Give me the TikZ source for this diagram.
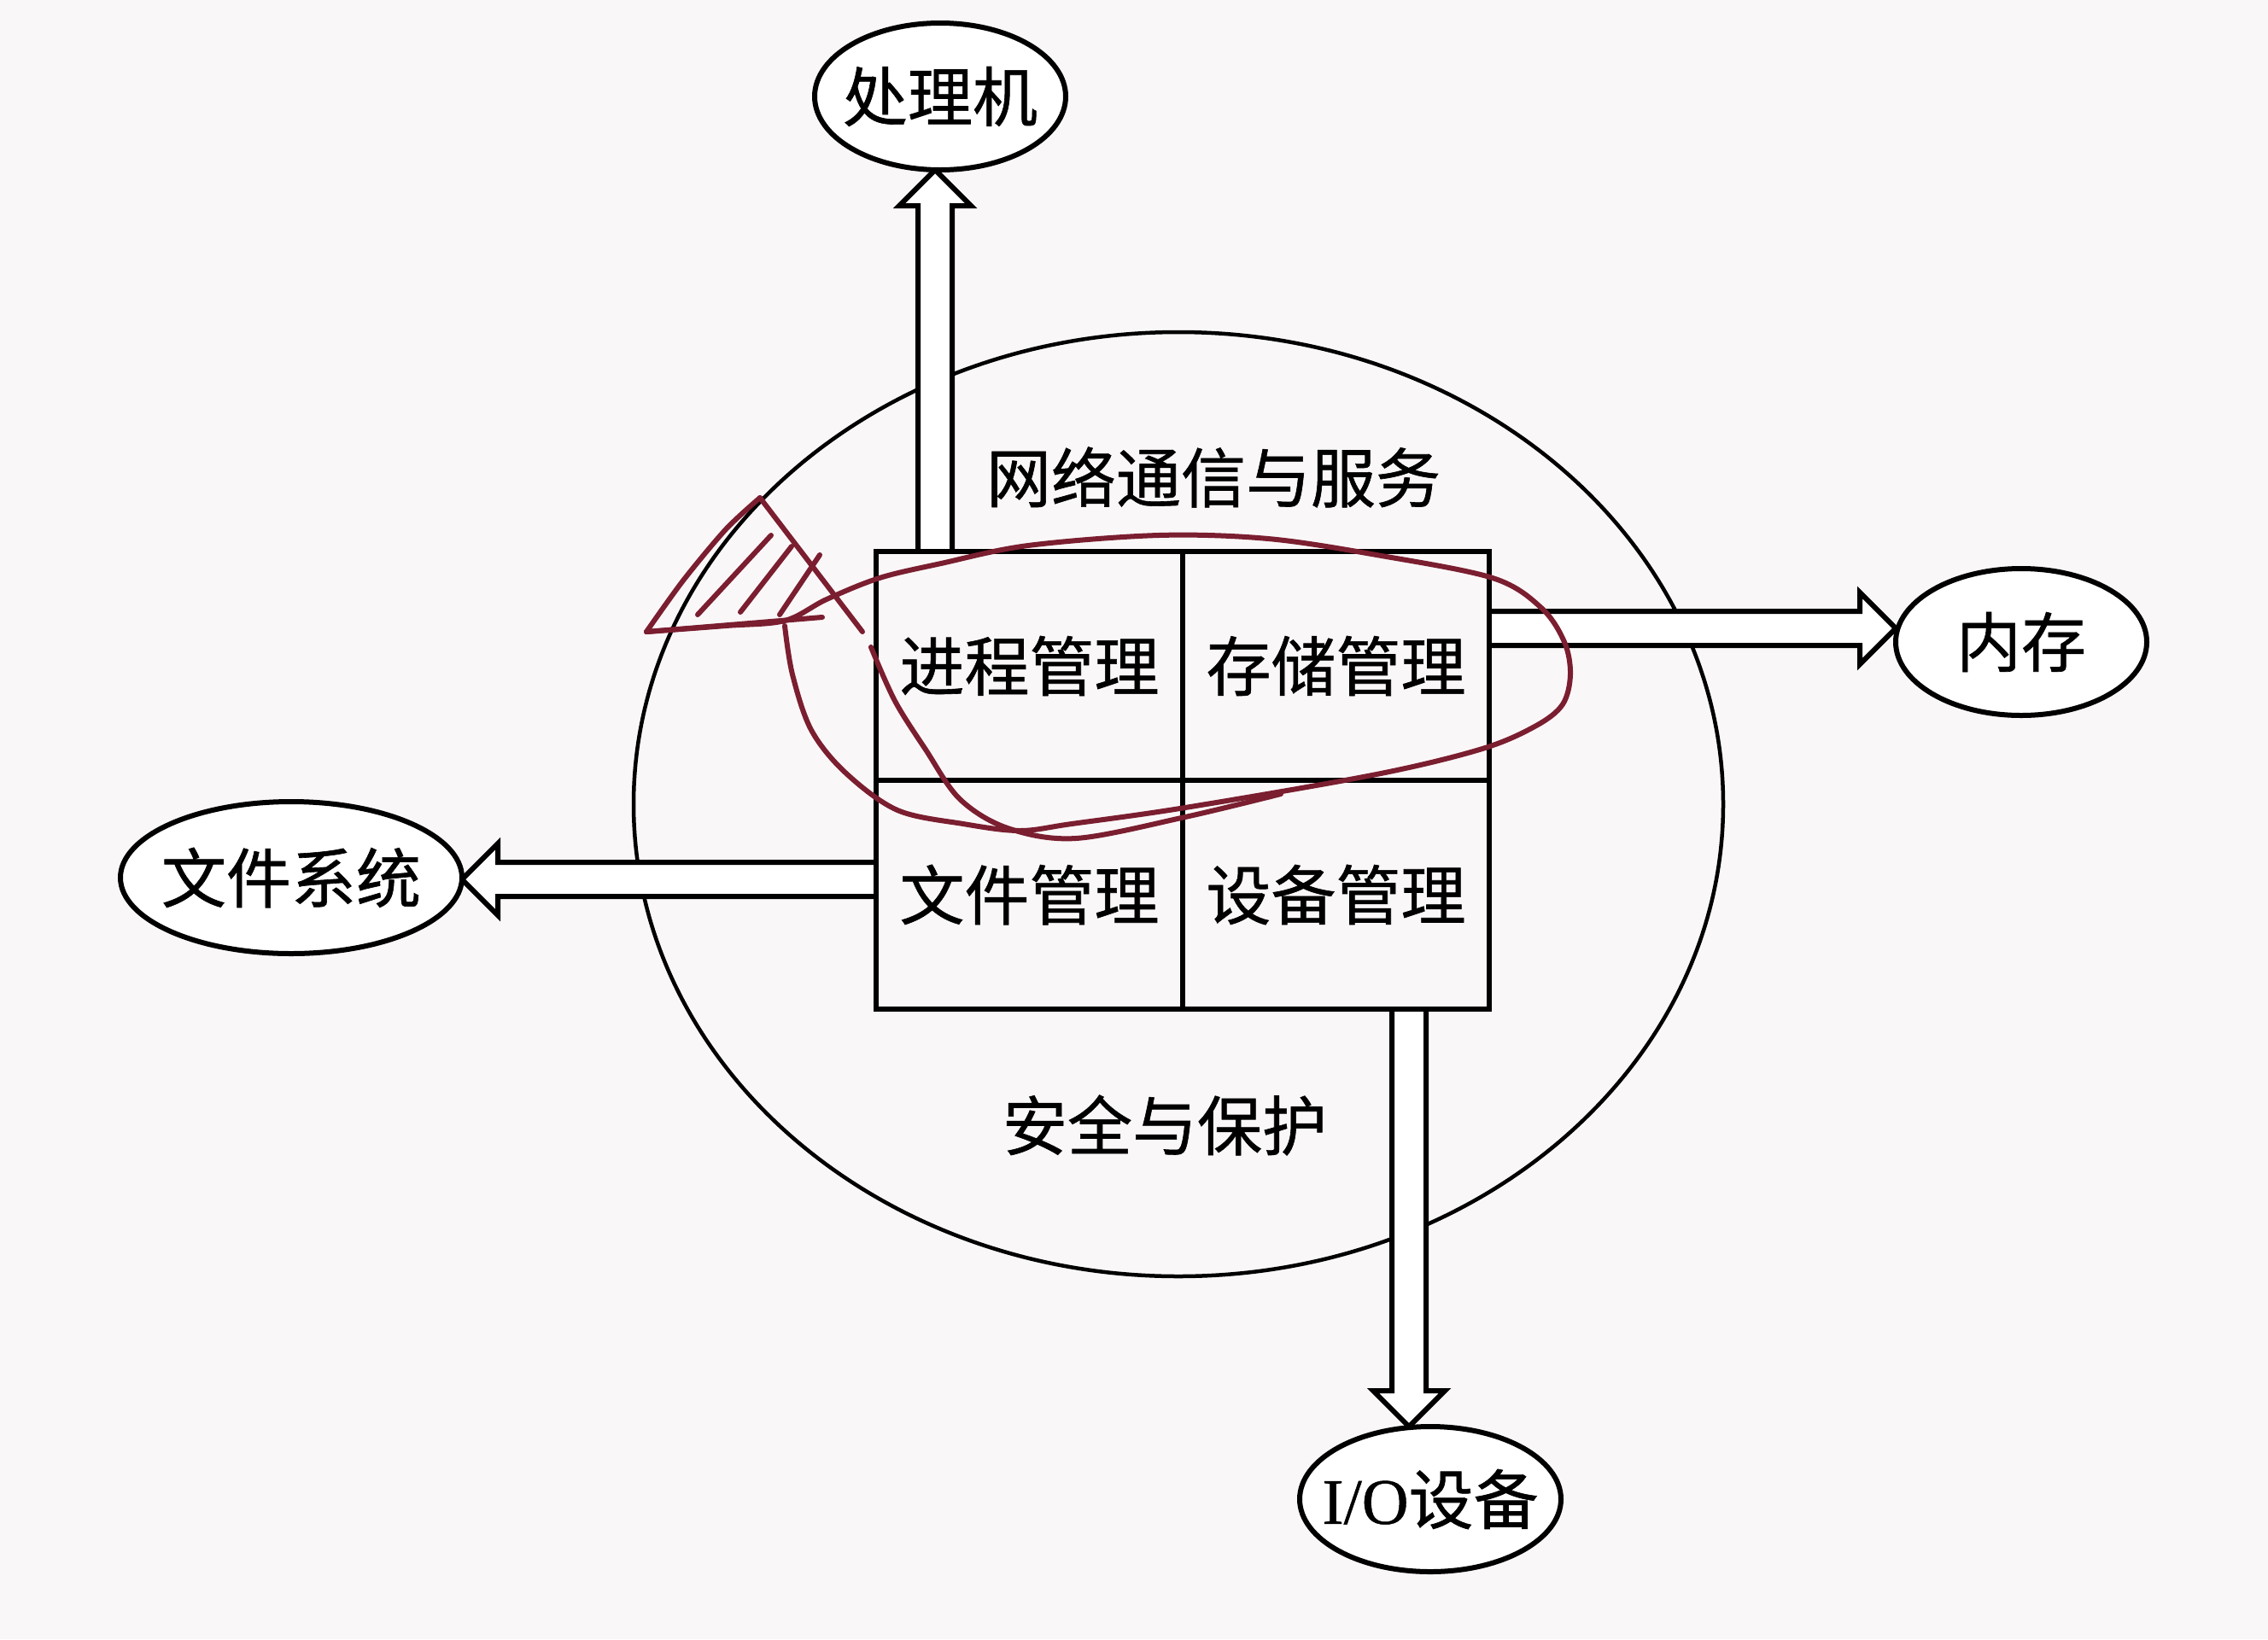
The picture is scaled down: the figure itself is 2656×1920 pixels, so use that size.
\documentclass[tikz,border=0pt]{standalone}
\usepackage{fontspec}
\setmainfont{Liberation Serif}[FakeBold=0.6]
\newfontfamily\cjk{Noto Sans CJK SC}[FakeBold=0.8]
\usetikzlibrary{shapes.geometric,calc}
\pgfdeclarelayer{bg}
\pgfsetlayers{bg,main}
\definecolor{paper}{RGB}{250,247,248}
\definecolor{scrib}{RGB}{122,30,48}
\tikzset{
  every node/.style={font=\cjk\fontsize{76}{90}\selectfont, text=black},
  cell/.style={draw, line width=6pt, minimum width=359pt, minimum height=268pt,
    inner sep=0pt, outer sep=0pt, anchor=north west},
  oval/.style={draw, ellipse, line width=6pt, inner sep=0pt, outer sep=0pt, fill=white},
  arrowbody/.style={draw, fill=white, line width=6pt, line join=miter},
  bigring/.style={draw, line width=4.5pt},
  scribble/.style={draw=scrib, line width=6pt, line cap=round, line join=round},
}
\newcommand\hollowarrow[2]{%
  \coordinate (ha-h) at ($(#2)!42pt!(#1)$);
  \filldraw[arrowbody] ($(#1)!20pt!90:(#2)$) -- ($(ha-h)!20pt!90:(#2)$)
    -- ($(ha-h)!42pt!90:(#2)$) -- (#2) -- ($(ha-h)!42pt!-90:(#2)$)
    -- ($(ha-h)!20pt!-90:(#2)$) -- ($(#1)!20pt!-90:(#2)$);
}
\begin{document}
\begin{tikzpicture}[x=1pt,y=-1pt]
\useasboundingbox (0,0) rectangle (2656,1920);
\begin{pgfonlayer}{bg}
  \fill[paper] (0,0) rectangle (2656,1920);
  \draw[bigring] (1380,942) ellipse [x radius=638pt, y radius=553pt];
\end{pgfonlayer}

% the four cells
\node[cell] (pm) at (1026,646) {进程管理};
\node[cell] (sm) at (pm.north east) {存储管理};
\node[cell] (fm) at (pm.south west) {文件管理};
\node[cell] (dm) at (pm.south east) {设备管理};

% labels inside the ring
\node (net) at (1421,559) {网络通信与服务};
\node (safe) at (1364,1318) {安全与保护};

% outer ellipses
\node[oval, minimum width=294pt, minimum height=172pt] (proc) at (1101,113) {\makebox[0pt]{处理机}};
\node[oval, minimum width=294pt, minimum height=172pt] (mem) at (2367,752) {\makebox[0pt]{内存}};
\node[oval, minimum width=400pt, minimum height=178pt] (fs) at (341,1028) {\makebox[0pt]{文件系统}};
\node[oval, minimum width=306pt, minimum height=170pt] (io) at (1675,1756) {\makebox[0pt]{{\rmfamily I/O}设备}};

% connector anchors on the box
\coordinate (upS) at ($(pm.north west)+(69,0)$);
\coordinate (upE) at (upS |- proc.south);
\coordinate (rtS) at ($(sm.north east)+(0,90)$);
\coordinate (rtE) at (rtS -| mem.west);
\coordinate (lfS) at ($(fm.south west)+(0,-152)$);
\coordinate (lfE) at (lfS -| fs.east);
\coordinate (dnS) at ($(fm.south west)+(624,0)$);
\coordinate (dnE) at (dnS |- io.north);

\begin{pgfonlayer}{bg}
  \hollowarrow{upS}{upE}
  \hollowarrow{rtS}{rtE}
  \hollowarrow{lfS}{lfE}
  \hollowarrow{dnS}{dnE}
\end{pgfonlayer}

% handwritten marks
\draw[scribble] plot[smooth, tension=0.55] coordinates {
  (757,740) (850,733) (919,727) (968,702) (1030,677) (1102,660) (1204,639)
  (1357,627) (1485,631) (1612,650) (1748,677) (1805,712) (1832,752) (1839,790)
  (1830,825) (1799,850) (1736,877) (1612,907) (1388,946) (1255,965) (1194,973)
  (1128,965) (1051,949) (990,905) (950,855) (928,790) (919,733)};
\draw[scribble] plot[smooth, tension=0.55] coordinates {
  (1020,758) (1048,821) (1084,878) (1124,936) (1180,970) (1260,982) (1388,957) (1500,930)};
\draw[scribble] (757,740) -- (963,723);
\draw[scribble] plot[smooth, tension=0.5] coordinates {(757,740) (800,680) (850,620) (890,583)};
\draw[scribble] (890,583) -- (1010,740);
\draw[scribble] (817,720) -- (903,627);
\draw[scribble] (867,717) -- (927,640);
\draw[scribble] (913,720) -- (960,650);
\end{tikzpicture}
\end{document}
